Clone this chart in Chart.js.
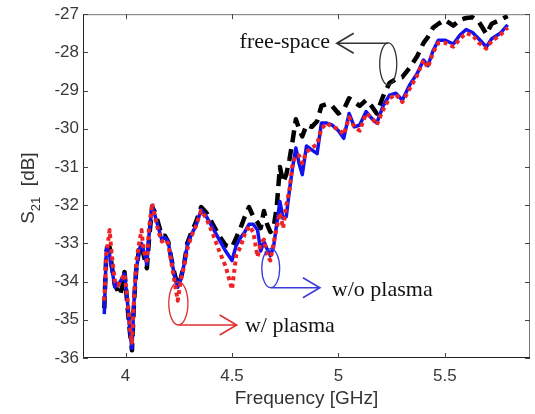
<!DOCTYPE html>
<html>
<head>
<meta charset="utf-8">
<script src="https://cdn.jsdelivr.net/npm/chart.js@4.4.1/dist/chart.umd.min.js"></script>
<style>
  html, body { margin: 0; padding: 0; background: #fff; }
  #wrap { width: 535px; height: 414px; }
</style>
</head>
<body>
<div id="wrap"><canvas id="s21"></canvas></div>
<script>
// frequency points (GHz), shared by the three traces
const freq = [
  3.90, 3.91, 3.925, 3.935, 3.95, 3.965, 3.975, 3.985, 3.995, 4.01,
  4.02, 4.03, 4.04, 4.05, 4.065, 4.075, 4.085, 4.10, 4.11, 4.125,
  4.14, 4.155, 4.17, 4.185, 4.20, 4.215, 4.23, 4.245, 4.26, 4.275,
  4.29, 4.31, 4.33, 4.355, 4.38, 4.41, 4.44, 4.47, 4.50, 4.52,
  4.54, 4.56, 4.58, 4.60, 4.62, 4.635, 4.65, 4.665, 4.68, 4.695,
  4.71, 4.725, 4.74, 4.755, 4.77, 4.785, 4.80, 4.815, 4.83, 4.85,
  4.875, 4.90, 4.92, 4.945, 4.97, 5.00, 5.025, 5.05, 5.075, 5.10,
  5.13, 5.155, 5.18, 5.21, 5.24, 5.27, 5.30, 5.335, 5.37, 5.40,
  5.42, 5.445, 5.47, 5.50, 5.54, 5.57, 5.60, 5.63, 5.66, 5.695,
  5.72, 5.76, 5.795
];
// S21 in dB
const freeSpace = [
  -34.7, -33.2, -33.1, -33.6, -34.1, -34.25, -34.35, -34.1, -33.75, -34.7,
  -35.3, -35.8, -34.5, -33.7, -33.1, -33.05, -33.3, -33.65, -32.9, -32.05,
  -32.2, -32.5, -32.8, -32.8, -32.95, -33.4, -33.8, -34.1, -33.9, -33.55,
  -33.0, -32.7, -32.45, -32.05, -32.2, -32.5, -32.8, -33.05, -33.1, -32.85,
  -32.6, -32.3, -32.05, -32.3, -32.45, -32.6, -32.15, -32.5, -32.7, -32.6,
  -32.05, -31.0, -31.4, -31.2, -30.8, -30.3, -29.75, -30.0, -30.2, -29.9,
  -29.95, -29.8, -29.4, -29.35, -29.4, -29.6, -29.5, -29.2, -29.3, -29.4,
  -29.25, -29.4, -29.6, -29.15, -28.8, -28.7, -28.65, -28.4, -28.1, -27.75,
  -27.6, -27.35, -27.25, -27.15, -27.3, -27.15, -27.1, -27.08, -27.2, -27.52,
  -27.25, -27.15, -27.05
];
const noPlasma = [
  -34.85, -33.1, -33.3, -33.65, -34.15, -34.05, -34.0, -33.9, -33.8, -34.6,
  -35.3, -35.75, -34.5, -33.7, -33.15, -33.0, -33.2, -33.55, -32.8, -32.0,
  -32.3, -32.6, -32.9, -32.85, -32.95, -33.4, -33.85, -34.15, -33.9, -33.55,
  -33.05, -32.75, -32.55, -32.12, -32.3, -32.6, -32.9, -33.2, -33.45, -33.05,
  -32.85, -32.7, -32.5, -32.5, -32.65, -33.2, -32.95, -33.15, -33.32, -33.1,
  -32.5, -31.9, -32.35, -32.3, -31.6, -31.0, -30.5, -30.9, -31.2, -30.45,
  -30.55, -30.65, -29.85, -29.85, -29.9, -30.05, -30.25, -29.6, -29.95, -29.9,
  -29.55, -29.72, -29.85, -29.4, -29.12, -29.07, -29.25, -28.85, -28.55, -28.2,
  -28.35, -27.95, -27.68, -27.68, -27.78, -27.55, -27.4, -27.48, -27.65, -27.86,
  -27.64, -27.5, -27.28
];
const withPlasma = [
  -34.5, -33.3, -32.65, -33.3, -34.0, -34.1, -34.0, -33.9, -33.8, -34.5,
  -35.2, -35.6, -34.4, -33.5, -32.95, -32.65, -33.2, -33.45, -32.6, -31.95,
  -32.35, -32.7, -32.95, -32.9, -33.0, -33.5, -34.0, -34.5, -33.95, -33.6,
  -33.15, -32.8, -32.55, -32.15, -32.35, -32.75, -33.2, -33.6, -34.2, -33.3,
  -33.1, -32.75, -32.55, -32.7, -33.35, -33.0, -32.9, -33.3, -33.45, -33.0,
  -32.6, -32.2, -32.6, -32.0, -31.6, -30.9, -30.7, -30.7, -30.9, -30.6,
  -30.5, -30.4, -30.0, -29.85, -29.95, -30.0, -30.15, -29.7, -29.95, -30.05,
  -29.6, -29.7, -29.9, -29.5, -29.2, -29.1, -29.3, -28.95, -28.6, -28.2,
  -28.4, -28.0, -27.75, -27.75, -27.85, -27.65, -27.5, -27.55, -27.75, -27.9,
  -27.7, -27.55, -27.35
];
const xTicks = [4, 4.5, 5, 5.5];
const yTicks = [-36, -35, -34, -33, -32, -31, -30, -29, -28, -27];

// callouts: ellipse around a trace, arrow to a label (data units)
const callouts = [
  { text: 'free-space', color: '#333333', cx: 5.234, cy: -28.30, rx: 0.040, ry: 0.55,
    from: [5.234, -27.76], to: [4.992, -27.76], textAt: [4.96, -27.73], align: 'right' },
  { text: 'w/o plasma', color: '#3b3bdc', cx: 4.682, cy: -33.65, rx: 0.042, ry: 0.51,
    from: [4.682, -34.16], to: [4.913, -34.16], textAt: [4.969, -34.23], align: 'left' },
  { text: 'w/ plasma', color: '#e03030', cx: 4.248, cy: -34.57, rx: 0.045, ry: 0.565,
    from: [4.248, -35.135], to: [4.522, -35.135], textAt: [4.561, -35.17], align: 'left' }
];

const toPts = ys => freq.map((f, i) => ({ x: f, y: ys[i] }));

const matlabAxes = {
  id: 'matlabAxes',
  afterDraw(chart) {
    const { ctx, chartArea: a, scales: { x, y } } = chart;
    ctx.save();
    // box
    ctx.lineWidth = 1;
    ctx.strokeStyle = '#777';
    ctx.beginPath();
    ctx.moveTo(a.left, a.top + 0.5); ctx.lineTo(a.right - 0.5, a.top + 0.5); ctx.lineTo(a.right - 0.5, a.bottom);
    ctx.stroke();
    ctx.strokeStyle = '#222';
    ctx.beginPath();
    ctx.moveTo(a.left + 0.5, a.top); ctx.lineTo(a.left + 0.5, a.bottom - 0.5); ctx.lineTo(a.right, a.bottom - 0.5);
    ctx.stroke();
    // inward ticks
    ctx.strokeStyle = '#444';
    ctx.beginPath();
    xTicks.forEach(v => {
      const px = Math.round(x.getPixelForValue(v)) + 0.5;
      ctx.moveTo(px, a.bottom); ctx.lineTo(px, a.bottom - 5);
      ctx.moveTo(px, a.top); ctx.lineTo(px, a.top + 5);
    });
    yTicks.forEach(v => {
      const py = Math.round(y.getPixelForValue(v)) + 0.5;
      ctx.moveTo(a.left, py); ctx.lineTo(a.left + 5, py);
      ctx.moveTo(a.right, py); ctx.lineTo(a.right - 5, py);
    });
    ctx.stroke();

    // y title with subscript
    ctx.translate(27, (a.top + a.bottom) / 2 + 2);
    ctx.rotate(-Math.PI / 2);
    ctx.fillStyle = '#333';
    ctx.textBaseline = 'alphabetic';
    const big = '19px "Liberation Sans", Arial, sans-serif';
    const small = '13px "Liberation Sans", Arial, sans-serif';
    ctx.font = big; const wS = ctx.measureText('S').width; const wB = ctx.measureText('  [dB]').width;
    ctx.font = small; const wSub = ctx.measureText('21').width;
    let cx0 = -(wS + wSub + wB) / 2;
    ctx.font = big; ctx.fillText('S', cx0, 7);
    ctx.font = small; ctx.fillText('21', cx0 + wS, 13);
    ctx.font = big; ctx.fillText('  [dB]', cx0 + wS + wSub, 7);
    ctx.restore();

    // callouts
    ctx.save();
    callouts.forEach(c => {
      const ex = x.getPixelForValue(c.cx), ey = y.getPixelForValue(c.cy);
      const rx = Math.abs(x.getPixelForValue(c.cx + c.rx) - ex);
      const ry = Math.abs(y.getPixelForValue(c.cy + c.ry) - ey);
      ctx.strokeStyle = c.color;
      ctx.lineWidth = 1.3;
      ctx.beginPath();
      ctx.ellipse(ex, ey, rx, ry, 0, 0, Math.PI * 2);
      ctx.stroke();
      const x1 = x.getPixelForValue(c.from[0]), y1 = y.getPixelForValue(c.from[1]);
      const x2 = x.getPixelForValue(c.to[0]), y2 = y.getPixelForValue(c.to[1]);
      const dir = Math.sign(x2 - x1);
      ctx.lineWidth = 1.6;
      ctx.beginPath();
      ctx.moveTo(x1, y1); ctx.lineTo(x2, y2);
      ctx.moveTo(x2 - dir * 17, y2 - 10); ctx.lineTo(x2, y2); ctx.lineTo(x2 - dir * 17, y2 + 10);
      ctx.stroke();
      ctx.fillStyle = '#111';
      ctx.font = '22px "Liberation Serif", "Times New Roman", serif';
      ctx.textAlign = c.align;
      ctx.textBaseline = 'middle';
      ctx.fillText(c.text, x.getPixelForValue(c.textAt[0]), y.getPixelForValue(c.textAt[1]));
    });
    ctx.restore();
  }
};

new Chart(document.getElementById('s21'), {
  type: 'line',
  data: {
    datasets: [
      { label: 'w/ plasma', data: toPts(withPlasma), borderColor: '#ee2424', borderWidth: 4,
        borderDash: [4, 3.5], borderCapStyle: 'butt', borderJoinStyle: 'round', order: 1 },
      { label: 'w/o plasma', data: toPts(noPlasma), borderColor: '#1212ee', borderWidth: 3.5,
        borderJoinStyle: 'round', order: 2 },
      { label: 'free-space', data: toPts(freeSpace), borderColor: '#000', borderWidth: 4.5,
        borderDash: [12, 7], borderJoinStyle: 'round', order: 3 }
    ]
  },
  options: {
    responsive: true,
    maintainAspectRatio: false,
    animation: false,
    events: [],
    layout: { padding: { top: 12, right: 5, left: 0, bottom: 0 } },
    elements: { point: { radius: 0 }, line: { tension: 0, fill: false } },
    plugins: { legend: { display: false }, tooltip: { enabled: false } },
    scales: {
      x: {
        type: 'linear', min: 3.8, max: 5.9,
        afterBuildTicks: s => { s.ticks = xTicks.map(v => ({ value: v })); },
        afterFit: s => { s.height = 56; },
        grid: { display: false, drawTicks: false },
        border: { display: false },
        ticks: { padding: 8, color: '#3a3a3a', maxRotation: 0, autoSkip: false,
          font: { family: '"Liberation Sans", Arial, sans-serif', size: 17 },
          callback: v => String(v) },
        title: { display: true, text: 'Frequency [GHz]', color: '#333',
          font: { family: '"Liberation Sans", Arial, sans-serif', size: 19 },
          padding: { top: 0, bottom: 4 } }
      },
      y: {
        type: 'linear', min: -36, max: -27,
        afterBuildTicks: s => { s.ticks = yTicks.map(v => ({ value: v })); },
        afterFit: s => { s.width = 83; },
        grid: { display: false, drawTicks: false },
        border: { display: false },
        ticks: { padding: 4, color: '#3a3a3a', autoSkip: false,
          font: { family: '"Liberation Sans", Arial, sans-serif', size: 17 },
          callback: v => String(v) }
      }
    }
  },
  plugins: [matlabAxes]
});
</script>
</body>
</html>
